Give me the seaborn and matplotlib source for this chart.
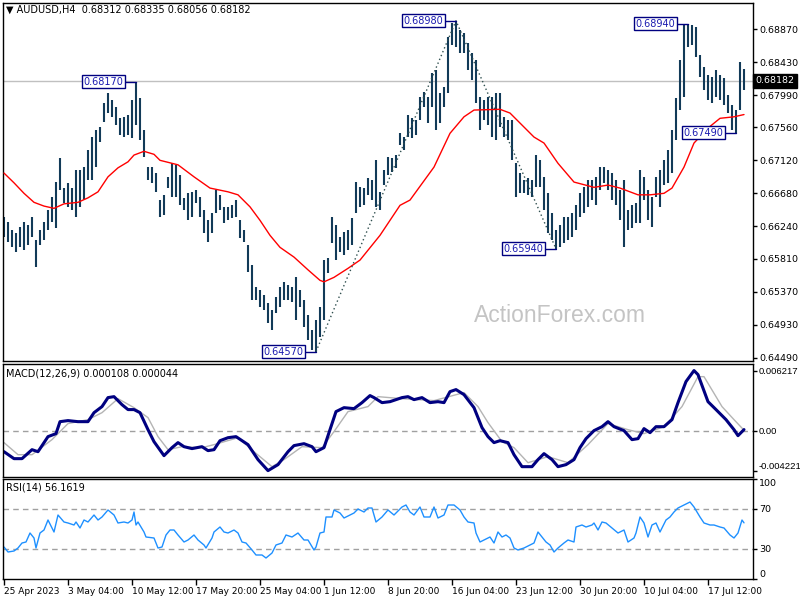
import matplotlib
matplotlib.use("Agg")
import matplotlib.pyplot as plt
import seaborn as sns
import pandas as pd

# ---- data (AUDUSD H4, every second bar) ----
bar_high = [
    0.6636, 0.6630, 0.6619, 0.6615, 0.6623, 0.6630, 0.6626, 0.6636, 0.6606, 0.6619,
    0.6630, 0.6646, 0.6663, 0.6683, 0.6715, 0.6675, 0.6682, 0.6675, 0.6699, 0.6699,
    0.6703, 0.6726, 0.6743, 0.6753, 0.6756, 0.6788, 0.6802, 0.6793, 0.6783, 0.6768,
    0.6770, 0.6772, 0.6792, 0.6817, 0.6795, 0.6753, 0.6703, 0.6703, 0.6695, 0.6659,
    0.6666, 0.6690, 0.6708, 0.6706, 0.6692, 0.6662, 0.6669, 0.6670, 0.6672, 0.6663,
    0.6646, 0.6632, 0.6642, 0.6672, 0.6666, 0.6650, 0.6650, 0.6652, 0.6659, 0.6632,
    0.6619, 0.6599, 0.6573, 0.6543, 0.6539, 0.6532, 0.6522, 0.6512, 0.6530, 0.6543,
    0.6550, 0.6546, 0.6543, 0.6556, 0.6539, 0.6526, 0.6506, 0.6486, 0.6499, 0.6517,
    0.6579, 0.6582, 0.6636, 0.6626, 0.6610, 0.6616, 0.6619, 0.6635, 0.6683, 0.6676,
    0.6675, 0.6689, 0.6686, 0.6713, 0.6670, 0.6699, 0.6716, 0.6715, 0.6719, 0.6749,
    0.6743, 0.6772, 0.6768, 0.6766, 0.6796, 0.6803, 0.6796, 0.6829, 0.6833, 0.6802,
    0.6810, 0.6876, 0.6895, 0.6898, 0.6886, 0.6882, 0.6868, 0.6855, 0.6846, 0.6796,
    0.6792, 0.6796, 0.6796, 0.6802, 0.6802, 0.6770, 0.6766, 0.6766, 0.6708, 0.6695,
    0.6686, 0.6688, 0.6686, 0.6719, 0.6712, 0.6690, 0.6668, 0.6642, 0.6619, 0.6626,
    0.6636, 0.6636, 0.6642, 0.6652, 0.6668, 0.6676, 0.6686, 0.6686, 0.6690, 0.6703,
    0.6703, 0.6699, 0.6695, 0.6686, 0.6672, 0.6686, 0.6646, 0.6652, 0.6655, 0.6699,
    0.6690, 0.6672, 0.6663, 0.6690, 0.6699, 0.6712, 0.6726, 0.6753, 0.6795, 0.6846,
    0.6892, 0.6894, 0.6892, 0.6890, 0.6852, 0.6836, 0.6826, 0.6823, 0.6832, 0.6826,
    0.6822, 0.6799, 0.6786, 0.6779, 0.6843, 0.68335,
]
bar_low = [
    0.6610, 0.6603, 0.6596, 0.6590, 0.6596, 0.6592, 0.6599, 0.6610, 0.6570, 0.6599,
    0.6606, 0.6619, 0.6630, 0.6622, 0.6673, 0.6655, 0.6650, 0.6646, 0.6636, 0.6650,
    0.6659, 0.6686, 0.6686, 0.6703, 0.6736, 0.6763, 0.6775, 0.6770, 0.6759, 0.6746,
    0.6743, 0.6746, 0.6742, 0.6759, 0.6739, 0.6717, 0.6686, 0.6682, 0.6670, 0.6636,
    0.6639, 0.6675, 0.6663, 0.6663, 0.6652, 0.6646, 0.6633, 0.6636, 0.6655, 0.6636,
    0.6615, 0.6603, 0.6615, 0.6642, 0.6646, 0.6628, 0.6632, 0.6635, 0.6636, 0.6608,
    0.6603, 0.6563, 0.6526, 0.6526, 0.6517, 0.6512, 0.6495, 0.6486, 0.6508, 0.6517,
    0.6526, 0.6526, 0.6523, 0.6499, 0.6517, 0.6490, 0.6472, 0.6459, 0.6457, 0.6477,
    0.6499, 0.6562, 0.6602, 0.6579, 0.6590, 0.6586, 0.6592, 0.6599, 0.6642, 0.6650,
    0.6652, 0.6666, 0.6659, 0.6650, 0.6646, 0.6679, 0.6692, 0.6696, 0.6702, 0.6733,
    0.6726, 0.6743, 0.6742, 0.6746, 0.6766, 0.6783, 0.6762, 0.6783, 0.6753, 0.6762,
    0.6783, 0.6802, 0.6866, 0.6863, 0.6855, 0.6855, 0.6832, 0.6819, 0.6788, 0.6753,
    0.6766, 0.6759, 0.6743, 0.6739, 0.6756, 0.6743, 0.6739, 0.6713, 0.6663, 0.6668,
    0.6668, 0.6666, 0.6663, 0.6676, 0.6676, 0.6646, 0.6615, 0.6606, 0.6594, 0.6596,
    0.6602, 0.6606, 0.6610, 0.6619, 0.6636, 0.6642, 0.6650, 0.6659, 0.6652, 0.6672,
    0.6682, 0.6672, 0.6659, 0.6652, 0.6632, 0.6596, 0.6619, 0.6622, 0.6628, 0.6628,
    0.6659, 0.6632, 0.6623, 0.6663, 0.6650, 0.6679, 0.6682, 0.6695, 0.6739, 0.6779,
    0.6796, 0.6863, 0.6866, 0.6850, 0.6823, 0.6806, 0.6792, 0.6788, 0.6796, 0.6792,
    0.6786, 0.6775, 0.6753, 0.6749, 0.6779, 0.68056,
]
bar_idx = list(range(0, 2 * len(bar_high), 2))

# moving average (red)
ma_bar = [0, 5, 10, 15, 20, 25, 30, 37, 42, 47, 52, 57, 62, 65, 70, 75, 78, 87, 95, 103,
          112, 117, 123, 128, 133, 138, 145, 152, 158, 160, 165, 172, 178, 188, 198, 203,
          215, 223, 230, 235, 248, 253, 265, 270, 277, 285, 295, 302, 308, 317, 323, 330,
          334, 340, 345, 352, 358, 365, 370]
ma_val = [0.6695, 0.6682, 0.6668, 0.6656, 0.6651, 0.6648, 0.6654, 0.6656, 0.6662, 0.6670,
          0.6690, 0.6702, 0.6710, 0.6719, 0.6724, 0.6720, 0.6712, 0.6706, 0.6690, 0.6675,
          0.6670, 0.6666, 0.6650, 0.6632, 0.6612, 0.6596, 0.6583, 0.6566, 0.6552, 0.6550,
          0.6556, 0.6568, 0.6579, 0.6612, 0.6652, 0.6659, 0.6703, 0.6748, 0.6770, 0.6779,
          0.6780, 0.6775, 0.6743, 0.6735, 0.6708, 0.6683, 0.6676, 0.6679, 0.6675, 0.6666,
          0.6666, 0.6668, 0.6675, 0.6703, 0.6735, 0.6755, 0.6768, 0.6770, 0.6773]

# fractal zigzag and labelled swing points
zz_bar = [156, 226, 276]
zz_val = [0.6457, 0.6898, 0.6594]
peak_bar = [66, 226, 342, 276, 156, 366]
peak_val = [0.68170, 0.68980, 0.68940, 0.65940, 0.64570, 0.67490]

main_ticks = [0.68870, 0.68430, 0.67990, 0.67560, 0.67120, 0.66680,
              0.66240, 0.65810, 0.65370, 0.64930, 0.64490]
last_close = 0.68182

# MACD(12,26,9)
macd_bar = [0, 5, 9, 14, 17, 22, 26, 28, 32, 37, 42, 45, 49, 52, 55, 59, 62, 65, 68, 72,
            75, 80, 84, 87, 90, 94, 99, 102, 105, 108, 112, 116, 122, 127, 132, 137, 142,
            145, 150, 154, 156, 160, 163, 166, 170, 175, 179, 183, 185, 189, 193, 199, 202,
            205, 209, 213, 217, 220, 223, 226, 230, 235, 239, 242, 245, 248, 252, 255, 259,
            264, 267, 270, 274, 277, 281, 285, 288, 291, 295, 299, 302, 305, 310, 314, 317,
            320, 323, 326, 330, 334, 337, 341, 345, 347, 352, 356, 361, 365, 367, 370]
macd_val = [-0.00218, -0.00290, -0.00290, -0.00197, -0.00218, -0.00062, -0.00031, 0.00093,
            0.00104, 0.00093, 0.00093, 0.00186, 0.00249, 0.00342, 0.00352, 0.00269, 0.00218,
            0.00218, 0.00186, 0.00010, -0.00114, -0.00259, -0.00176, -0.00124, -0.00166,
            -0.00186, -0.00166, -0.00207, -0.00197, -0.00104, -0.00073, -0.00062, -0.00145,
            -0.00300, -0.00414, -0.00352, -0.00218, -0.00155, -0.00135, -0.00166, -0.00218,
            -0.00176, 0.00010, 0.00197, 0.00238, 0.00228, 0.00290, 0.00363, 0.00342, 0.00290,
            0.00300, 0.00342, 0.00352, 0.00321, 0.00342, 0.00290, 0.00300, 0.00290, 0.00404,
            0.00425, 0.00373, 0.00238, 0.00031, -0.00062, -0.00124, -0.00104, -0.00124,
            -0.00249, -0.00373, -0.00373, -0.00300, -0.00238, -0.00300, -0.00373, -0.00352,
            -0.00300, -0.00176, -0.00083, 0.00000, 0.00041, 0.00093, 0.00041, 0.00000,
            -0.00093, -0.00083, 0.00021, -0.00021, 0.00041, 0.00041, 0.00114, 0.00290,
            0.00508, 0.00622, 0.00580, 0.00300, 0.00218, 0.00114, 0.00010, -0.00052, 0.000108]
sig_bar = [0, 7, 14, 24, 32, 42, 49, 57, 65, 72, 77, 82, 89, 99, 105, 117, 125, 134, 140,
           149, 159, 165, 172, 182, 187, 199, 215, 230, 237, 242, 249, 255, 262, 272, 282,
           292, 302, 312, 320, 330, 339, 347, 350, 359, 365, 370]
sig_val = [-0.00124, -0.00249, -0.00249, -0.00093, 0.00073, 0.00114, 0.00186, 0.00331,
           0.00238, 0.00135, -0.00062, -0.00197, -0.00166, -0.00176, -0.00145, -0.00073,
           -0.00218, -0.00373, -0.00300, -0.00166, -0.00176, -0.00010, 0.00197, 0.00249,
           0.00352, 0.00331, 0.00311, 0.00394, 0.00249, 0.00083, -0.00114, -0.00176,
           -0.00332, -0.00269, -0.00332, -0.00145, 0.00073, 0.00010, -0.00031, 0.00041,
           0.00249, 0.00559, 0.00559, 0.00249, 0.00114, 0.000044]

# RSI(14)
rsi_bar = [0, 2, 5, 7, 9, 11, 13, 15, 16, 18, 20, 22, 24, 25, 27, 30, 32, 35, 36, 38,
           40, 42, 45, 47, 49, 52, 55, 57, 60, 62, 64, 65, 66, 67, 70, 71, 75, 77, 79, 81,
           83, 85, 87, 90, 92, 95, 97, 100, 101, 104, 105, 108, 110, 112, 115, 117, 119,
           121, 124, 126, 129, 131, 134, 136, 139, 141, 144, 147, 150, 152, 155, 156, 158,
           160, 161, 164, 165, 168, 170, 173, 175, 177, 180, 182, 184, 186, 189, 192, 195,
           199, 201, 203, 205, 208, 210, 213, 215, 217, 220, 222, 225, 228, 230, 232, 235,
           236, 238, 240, 243, 245, 247, 249, 251, 253, 255, 257, 260, 263, 265, 267, 269,
           271, 273, 275, 277, 280, 282, 285, 286, 289, 291, 294, 295, 297, 299, 301, 304,
           307, 310, 312, 315, 316, 318, 320, 322, 324, 326, 328, 331, 333, 335, 337, 340,
           343, 345, 348, 350, 353, 355, 358, 360, 363, 365, 367, 369, 370]
rsi_val = [32, 27, 28, 31, 36, 37, 46, 41, 31, 46, 49, 59, 51, 47, 64, 57, 56, 54, 57, 51,
           59, 57, 64, 59, 62, 69, 64, 56, 57, 56, 59, 67, 54, 57, 47, 42, 41, 31, 32, 44,
           49, 49, 44, 37, 39, 44, 39, 34, 31, 41, 47, 52, 47, 46, 49, 46, 37, 36, 29, 24,
           24, 21, 26, 34, 36, 44, 42, 46, 39, 39, 29, 32, 46, 47, 62, 62, 69, 66, 61, 64,
           66, 70, 67, 71, 71, 57, 62, 69, 64, 72, 74, 67, 64, 72, 62, 62, 72, 61, 64, 74,
           74, 69, 62, 57, 56, 46, 37, 39, 42, 36, 47, 42, 44, 41, 31, 29, 31, 34, 36, 47,
           42, 37, 34, 27, 31, 36, 39, 37, 52, 54, 52, 54, 56, 49, 57, 56, 51, 46, 49, 37,
           41, 46, 62, 56, 42, 54, 56, 47, 59, 62, 67, 71, 74, 77, 72, 62, 56, 54, 54, 52,
           51, 44, 41, 46, 59, 56.16]

date_labels = ["25 Apr 2023", "3 May 04:00", "10 May 12:00", "17 May 20:00",
               "25 May 04:00", "1 Jun 12:00", "8 Jun 20:00", "16 Jun 04:00",
               "23 Jun 12:00", "30 Jun 20:00", "10 Jul 04:00", "17 Jul 12:00"]

# ---- styling ----
sns.set_theme(style="white")
plt.rcParams["font.family"] = ["DejaVu Sans"]
plt.rcParams.update({"font.size": 7, "text.color": "black", "axes.edgecolor": "black",
                     "xtick.color": "black", "ytick.color": "black", "axes.linewidth": 1})

BAR = "#123a58"
W, H = 800, 600


def panel(top, bottom):
    return [3 / W, 1 - bottom / H, 750 / W, (bottom - top) / H]


fig = plt.figure(figsize=(8, 6), dpi=100)
ax = fig.add_axes(panel(3, 361))
ax_macd = fig.add_axes(panel(364, 477))
ax_rsi = fig.add_axes(panel(479, 579))

# --- price panel ---
ax.axhline(last_close, color="#c0c0c0", lw=1, zorder=0)
ax.vlines(bar_idx, bar_low, bar_high, color=BAR, lw=1.5, zorder=2)
sns.lineplot(x=ma_bar, y=ma_val, ax=ax, color="red", lw=1, estimator=None, sort=False, zorder=3)
ax.plot(zz_bar, zz_val, color="#2f4f4f", lw=1, ls=(0, (1, 2)), zorder=3)

for b, v in zip(peak_bar, peak_val):
    ax.plot([b - 5.5, b], [v, v], color="#000080", lw=1, zorder=4)
    ax.text(b - 6.2, v, f"{v:.5f}", ha="right", va="center", color="#1a1ab0", fontsize=7,
            zorder=5, bbox=dict(boxstyle="square,pad=0.15", fc="white", ec="#000080", lw=1))

ax.text(1.003, last_close, f"{last_close:.5f}", transform=ax.get_yaxis_transform(),
        ha="left", va="center", color="white", fontsize=6.8, zorder=6,
        bbox=dict(boxstyle="square,pad=0.25", fc="black", ec="black"))

ax.set_ylim(0.64445, 0.69217)
ax.set_yticks(main_ticks)
ax.set_yticklabels([f"{t:.5f}" for t in main_ticks])

fig.text(6 / W, 1 - 10 / H, "\u25bc AUDUSD,H4  0.68312 0.68335 0.68056 0.68182",
         ha="left", va="center", fontsize=7)
fig.text(560 / W, 1 - 316 / H, "ActionForex.com", ha="center", va="center",
         fontsize=16.5, color="#c4c4c4", family=["Liberation Sans"])

# --- MACD panel ---
ax_macd.axhline(0, color="#a0a0a0", lw=1, ls=(0, (4, 3)))
sns.lineplot(x=sig_bar, y=sig_val, ax=ax_macd, color="#b4b4b4", lw=1, estimator=None, sort=False)
sns.lineplot(x=macd_bar, y=macd_val, ax=ax_macd, color="#000080", lw=2.2, estimator=None, sort=False)
ax_macd.set_ylim(-0.0048, 0.0069)
ax_macd.set_yticks([-0.004221, 0.0, 0.006217])
ax_macd.set_yticklabels(["-0.004221", "0.00", "0.006217"])
fig.text(6 / W, 1 - 373 / H, "MACD(12,26,9) 0.000108 0.000044", ha="left", va="center", fontsize=7)

# --- RSI panel ---
for lvl in (30, 70):
    ax_rsi.axhline(lvl, color="#a0a0a0", lw=1, ls=(0, (4, 3)))
sns.lineplot(x=rsi_bar, y=rsi_val, ax=ax_rsi, color="#1e90ff", lw=1, estimator=None, sort=False)
ax_rsi.set_ylim(0, 100)
ax_rsi.set_yticks([0, 30, 70, 100])
ax_rsi.set_yticklabels(["0", "30", "70", "100"])
fig.text(6 / W, 1 - 487 / H, "RSI(14) 56.1619", ha="left", va="center", fontsize=7)

ax_rsi.set_xticks(list(range(0, 32 * len(date_labels), 32)))
ax_rsi.set_xticklabels(date_labels, ha="left")

for a in (ax, ax_macd, ax_rsi):
    a.set_xlim(-0.5, 374.5)
    a.set_xlabel("")
    a.set_ylabel("")
    a.grid(False)
    for s in a.spines.values():
        s.set_color("black")
        s.set_linewidth(1)
    a.tick_params(axis="y", left=False, right=True, labelleft=False, labelright=True,
                  length=3, width=1, direction="out", pad=1.5, labelsize=6.8)
    a.tick_params(axis="x", bottom=False, labelbottom=False)
ax_macd.tick_params(axis="y", pad=1)
for lbl in ax_macd.get_yticklabels():
    lbl.set_fontfamily(["Liberation Sans"])
    lbl.set_fontsize(6.8)
ax_rsi.tick_params(axis="x", bottom=True, labelbottom=True, length=4, width=1,
                   direction="out", pad=2, labelsize=6.5)

# clamp edge labels inside their panel like the terminal does
rsi_lbls = ax_rsi.get_yticklabels()
rsi_lbls[0].set_va("bottom")
rsi_lbls[-1].set_va("top")
ax_macd.get_yticklabels()[0].set_va("bottom")

fig.savefig("out.png", dpi=100)
